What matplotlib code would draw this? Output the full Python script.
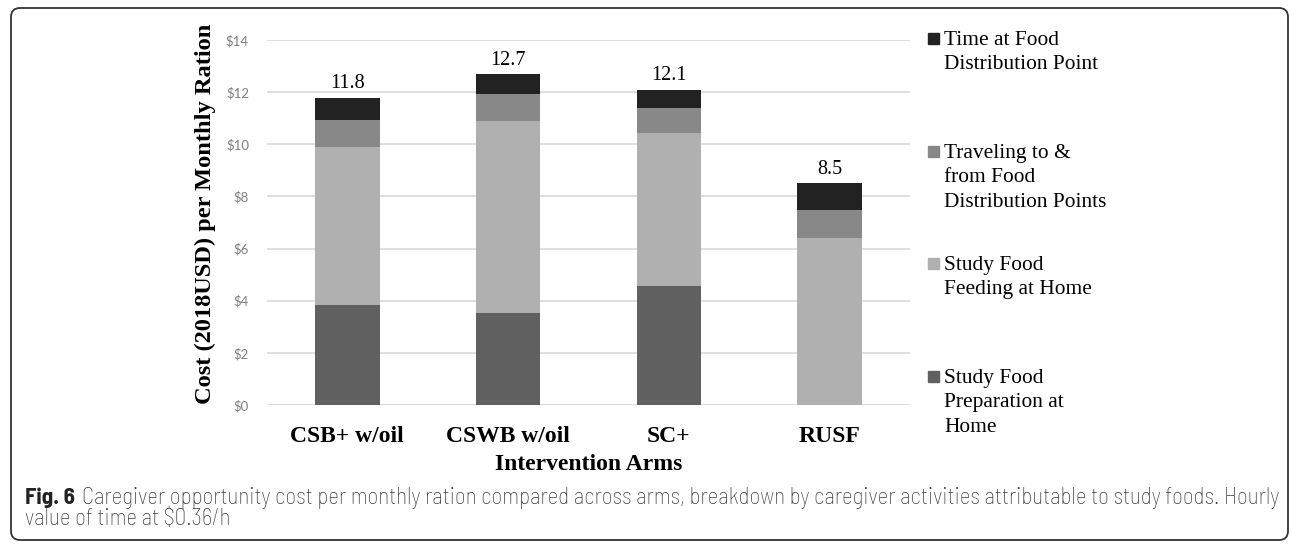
import matplotlib
matplotlib.use("Agg")
import matplotlib.pyplot as plt
from matplotlib.patches import FancyBboxPatch, Rectangle
from matplotlib.transforms import IdentityTransform
import numpy as np

arms = ["CSB+ w/oil", "CSWB w/oil", "SC+", "RUSF"]
prep = [3.82, 3.51, 4.55, 0.0]
feeding = [6.08, 7.37, 5.88, 6.42]
travel = [1.03, 1.06, 0.96, 1.06]
time_at = [0.86, 0.75, 0.70, 1.02]
totals = [11.8, 12.7, 12.1, 8.5]
ticks = [0, 2, 4, 6, 8, 10, 12, 14]

series = [
    ("Study Food\nPreparation at\nHome", prep, "#606060"),
    ("Study Food\nFeeding at Home", feeding, "#b0b0b0"),
    ("Traveling to &\nfrom Food\nDistribution Points", travel, "#888888"),
    ("Time at Food\nDistribution Point", time_at, "#222222"),
]

W, H = 1292, 544
fig = plt.figure(figsize=(W / 100, H / 100), dpi=100)
ax = fig.add_axes([267 / W, (H - 405) / H, 643 / W, 365 / H])

serif = "Liberation Serif"
x = np.arange(len(arms))
bottom = np.zeros(len(arms))
for name, vals, col in series:
    ax.bar(x, vals, 0.4, bottom=bottom, color=col, zorder=3)
    bottom += np.array(vals)

for xi, t in zip(x, totals):
    ax.annotate(f"{t}", (xi, t), xytext=(0, 3), textcoords="offset points",
                ha="center", va="bottom", family=serif, fontsize=14.5)

ax.set_xlim(-0.5, 3.5)
ax.set_ylim(0, 14)
ax.set_yticks(ticks)
ax.set_yticklabels([f"${t}" for t in ticks], family="Lato", fontsize=9.5, color="#7f7f7f")
ax.set_xticks(x)
ax.set_xticklabels(arms, family=serif, fontweight="bold", fontsize=17)
ax.tick_params(axis="both", length=0)
ax.tick_params(axis="y", pad=13)
ax.tick_params(axis="x", pad=15)
ax.grid(axis="y", color="#d9d9d9", linewidth=1.2, zorder=0)
for s in ax.spines.values():
    s.set_visible(False)

ax.set_xlabel("Intervention Arms", family=serif, fontweight="bold", fontsize=17)
ax.xaxis.set_label_coords(0.5, (405 - 464) / 365)
ax.xaxis.label.set_va("center")
ax.set_ylabel("Cost (2018USD) per Monthly Ration", family=serif, fontweight="bold", fontsize=17.6)
ax.yaxis.set_label_coords((205 - 267) / 643, (405 - 214) / 365)
ax.yaxis.label.set_va("center")

# legend drawn by hand, Excel style
leg_y = [38, 151, 263, 376]
for (name, vals, col), yy in zip(series[::-1], leg_y):
    fig.patches.append(Rectangle((928, H - yy - 5.5), 11, 11, color=col,
                                 transform=IdentityTransform()))
    fig.text(944 / W, (H - yy + 7) / H, name, family=serif, fontsize=15.4,
             va="top", ha="left", linespacing=1.38)

# caption, sized to fill the line like the journal layout
cap1 = ("Caregiver opportunity cost per monthly ration compared across arms, breakdown by "
        "caregiver activities attributable to study foods. Hourly")
cap2 = "value of time at $0.36/h"
cfont = "Barlow Semi Condensed"
ccol = "#3a3a3a"
fs = 12
t0 = fig.text(25 / W, (H - 504) / H, "Fig. 6", fontweight="bold", fontsize=fs,
              va="baseline", family=cfont, color="#222222")
t1 = fig.text(0, (H - 504) / H, cap1, fontsize=fs, va="baseline", family=cfont,
              color=ccol, fontweight="light")
fig.canvas.draw()
r = fig.canvas.get_renderer()
w0 = t0.get_window_extent(r).width
w1 = t1.get_window_extent(r).width
k = (1272 - 25) / (w0 + 5 + w1)
fs = fs * k
t0.set_fontsize(fs)
t1.set_fontsize(fs)
t1.set_x((25 + (w0 + 5) * k) / W)
fig.text(25 / W, (H - 525) / H, cap2, fontsize=fs, va="baseline", family=cfont,
         color=ccol, fontweight="light")

frame = FancyBboxPatch((11, 4), 1277, 532, boxstyle="round,pad=0,rounding_size=9",
                       fill=False, edgecolor="#333333", linewidth=1.3,
                       transform=IdentityTransform())
fig.patches.append(frame)

fig.savefig("out.png", dpi=100)
